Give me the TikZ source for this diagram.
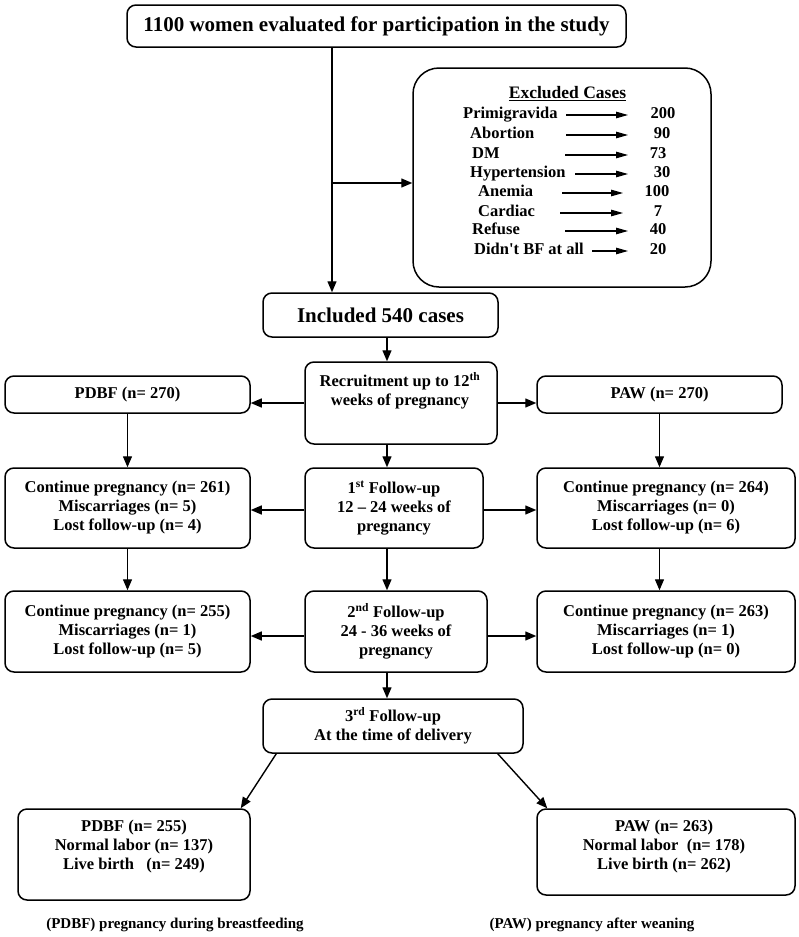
\documentclass[tikz,border=0pt]{standalone}
\usepackage{fontspec}
\setmainfont{Liberation Serif}
\newfontfamily\straightq{Liberation Serif}[Ligatures=TeXOff]
\usetikzlibrary{arrows.meta,calc}
\newcommand{\fMain}{\fontsize{16.5}{19}\selectfont\bfseries}
\newcommand{\fBig}{\fontsize{21}{24}\selectfont\bfseries}
\newcommand{\fFoot}{\fontsize{15}{18}\selectfont\bfseries}
\newcommand{\fExT}{\fontsize{17.5}{20}\selectfont\bfseries}
\begin{document}
\begin{tikzpicture}[x=1pt,y=-1pt,
  box/.style={draw, line width=1.5pt, rounded corners=9pt, inner sep=0pt, align=center, font=\fMain},
  txt/.style={inner sep=0pt, align=center, font=\fMain},
  exlab/.style={inner sep=0pt, font=\fMain, text height=11pt, text depth=4pt},
  exnum/.style={inner sep=0pt, font=\fMain, text height=11pt, text depth=4pt},
  foot/.style={inner sep=0pt, font=\fFoot},
  arr/.style={line width=1.4pt, -{Triangle[length=11pt,width=9pt]}},
  exarr/.style={line width=1.1pt, -{Triangle[length=12pt,width=6.5pt]}}
]
\useasboundingbox (0,0) rectangle (798,937);

% boxes
\node[box, font=\fBig, minimum width=499pt, minimum height=42pt] (top) at (376.5,26) {1100 women evaluated for participation in the study};
\node[box, rounded corners=26pt, minimum width=298pt, minimum height=219pt] (excl) at (562,177.5) {};
\node[box, font=\fBig, minimum width=235pt, minimum height=44pt] (incl) at (380.5,315) {Included 540 cases};
\node[box, minimum width=192pt, minimum height=82pt] (recr) at (401,403) {};
\node[txt] (recrT) at (400,391) {Recruitment up to 12\textsuperscript{th}\\weeks of pregnancy};
\node[box, minimum width=245pt, minimum height=37pt] (pdbfA) at (127.5,394.5) {PDBF (n= 270)};
\node[box, minimum width=245pt, minimum height=37pt] (pawA) at (659.5,394.5) {PAW (n= 270)};

\node[box, minimum width=245pt, minimum height=80pt] (L2) at (127.5,508) {Continue pregnancy (n= 261)\\Miscarriages (n= 5)\\Lost follow-up (n= 4)};
\node[box, minimum width=178pt, minimum height=80pt] (C2) at (394,508) {1\textsuperscript{st} Follow-up\\12 -- 24 weeks of\\pregnancy};
\node[box, minimum width=258pt, minimum height=80pt] (R2) at (666,508) {Continue pregnancy (n= 264)\\Miscarriages (n= 0)\\Lost follow-up (n= 6)};

\node[box, minimum width=245pt, minimum height=81pt] (L3) at (127.5,631.5) {Continue pregnancy (n= 255)\\Miscarriages (n= 1)\\Lost follow-up (n= 5)};
\node[box, minimum width=182pt, minimum height=81pt] (C3) at (396,631.5) {2\textsuperscript{nd} Follow-up\\24 - 36 weeks of\\pregnancy};
\node[box, minimum width=258pt, minimum height=81pt] (R3) at (666,631.5) {Continue pregnancy (n= 263)\\Miscarriages (n= 1)\\Lost follow-up (n= 0)};

\node[box, minimum width=260pt, minimum height=54pt] (F3) at (393,726) {3\textsuperscript{rd} Follow-up\\At the time of delivery};

\node[box, minimum width=232pt, minimum height=91pt] (LB) at (134,854.5) {};
\node[txt] (LBt) at (134,847) {PDBF (n= 255)\\Normal labor (n= 137)\\Live birth\ \ \ (n= 249)};
\node[box, minimum width=258pt, minimum height=86pt] (RB) at (666,852) {};
\node[txt] (RBt) at (664,847) {PAW (n= 263)\\Normal labor\ \ (n= 178)\\Live birth (n= 262)};

\node[foot] (fn1) at (175,925) {(PDBF) pregnancy during breastfeeding};
\node[foot] (fn2) at (592,925) {(PAW) pregnancy after weaning};

% excluded cases content
\node[inner sep=0pt, font=\fExT] (exT) at (567.5,94) {\underline{Excluded Cases}};
\foreach \i/\lab/\lx/\ry/\ax/\bx/\num/\nx in {
  1/Primigravida/463/115/566/628/200/663,
  2/Abortion/470/135/566/628/90/662,
  3/DM/472/155/565/628/73/658,
  4/Hypertension/470/174/575/628/30/662,
  5/Anemia/478/193/562/623/100/657,
  6/Cardiac/478/213/560/623/7/658,
  7/Refuse/472/231/565/628/40/658,
  8/{Didn{\straightq '}t BF at all}/474/251/592/628/20/658}{
  \node[exlab, anchor=west] (exl\i) at (\lx,\ry) {\lab};
  \node[exnum] (exn\i) at (\nx,\ry) {\num};
  \coordinate (exa\i) at (\ax,\ry);
  \coordinate (exb\i) at (\bx,\ry);
  \draw[exarr] (exa\i) -- (exb\i);
}

% connectors
\coordinate (v1) at (332,0);
\coordinate (sp) at (387,0);
\coordinate (br) at (332,183);
\coordinate (h2) at (0,510);
\coordinate (h3) at (0,636);
\draw[arr] (top.south -| v1) -- (incl.north -| v1);
\draw[arr] (br) -- (br -| excl.west);
\draw[arr] (incl.south -| sp) -- (recr.north -| sp);
\draw[arr] (recr.west) -- (recr.west -| pdbfA.east);
\draw[arr] (recr.east) -- (recr.east -| pawA.west);
\draw[arr] (pdbfA.south) -- (pdbfA.south |- L2.north);
\draw[arr] (pawA.south) -- (pawA.south |- R2.north);
\draw[arr] (recr.south -| sp) -- (C2.north -| sp);
\draw[arr] (C2.west |- h2) -- (L2.east |- h2);
\draw[arr] (C2.east |- h2) -- (R2.west |- h2);
\draw[arr] (L2.south) -- (L3.north);
\draw[arr] (R2.south -| pawA.south) -- (R3.north -| pawA.south);
\draw[arr] (C2.south -| sp) -- (C3.north -| sp);
\draw[arr] (C3.west |- h3) -- (L3.east |- h3);
\draw[arr] (C3.east |- h3) -- (R3.west |- h3);
\draw[arr] (C3.south -| sp) -- (F3.north -| sp);
\draw[arr] ($(F3.south west)+(14,0)$) -- ($(LB.north east)+(-10,0)$);
\draw[arr] ($(F3.south east)+(-26,0)$) -- ($(RB.north west)+(11,0)$);
\end{tikzpicture}
\end{document}
